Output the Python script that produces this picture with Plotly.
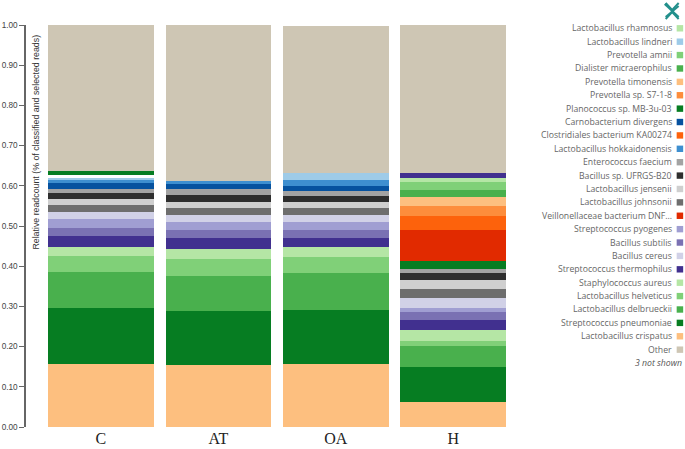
import plotly.graph_objects as go

W, H = 685, 449
L, R, T, B = 26.0, 512.25, 25.0, 426.7

samples = ["C", "AT", "OA", "H"]

crispatus = [.156, .153, .156, .062]
pneumoniae = [.140, .136, .134, .087]
delbrueckii = [.090, .087, .094, .052]
helveticus = [.040, .043, .039, .014]
aureus = [.023, .025, .024, .027]
thermophilus = [.026, .027, .024, .024]
subtilis = [.021, .020, .018, .020]
pyogenes = [.021, .020, .022, .011]
cereus = [.017, .017, .017, .024]
johnsonii = [.018, .018, .017, .023]
jensenii = [.014, .014, .015, .021]
ufrgs = [.015, .017, .014, .018]
faecium = [.012, .015, .014, .009]
planococcus_low = [0, 0, 0, .021]
veillonellaceae = [0, 0, 0, .076]
clostridiales = [0, 0, 0, .037]
s7 = [0, 0, 0, .024]
timonensis = [0, 0, 0, .021]
dialister = [0, 0, 0, .019]
amnii = [0, 0, 0, .019]
carnobacterium = [.014, .013, .012, 0]
hokkaidonensis = [.008, .008, .014, 0]
lindneri = [.004, 0, .018, 0]
rhamnosus = [0, 0, 0, .011]
not_shown_a = [0, 0, 0, .012]
not_shown_gap = [.007, 0, 0, 0]
planococcus_high = [.011, 0, 0, 0]
other = [.3635, .386, .366, .368]

stack = [
    ("Lactobacillus crispatus", crispatus, "#fdbf7f"),
    ("Streptococcus pneumoniae", pneumoniae, "#067d22"),
    ("Lactobacillus delbrueckii", delbrueckii, "#49b04d"),
    ("Lactobacillus helveticus", helveticus, "#80d078"),
    ("Staphylococcus aureus", aureus, "#b5e6a5"),
    ("Streptococcus thermophilus", thermophilus, "#41308f"),
    ("Bacillus subtilis", subtilis, "#7a71b3"),
    ("Streptococcus pyogenes", pyogenes, "#a09ed2"),
    ("Bacillus cereus", cereus, "#d1d1e7"),
    ("Lactobacillus johnsonii", johnsonii, "#6e6e6e"),
    ("Lactobacillus jensenii", jensenii, "#cfcfcf"),
    ("Bacillus sp. UFRGS-B20", ufrgs, "#2e2e2e"),
    ("Enterococcus faecium", faecium, "#a3a3a3"),
    ("Planococcus sp. MB-3u-03", planococcus_low, "#067d22"),
    ("Veillonellaceae bacterium DNF…", veillonellaceae, "#e12a00"),
    ("Clostridiales bacterium KA00274", clostridiales, "#fd620c"),
    ("Prevotella sp. S7-1-8", s7, "#fd8d3c"),
    ("Prevotella timonensis", timonensis, "#fdbf7f"),
    ("Dialister micraerophilus", dialister, "#49b04d"),
    ("Prevotella amnii", amnii, "#80d078"),
    ("Carnobacterium divergens", carnobacterium, "#06529f"),
    ("Lactobacillus hokkaidonensis", hokkaidonensis, "#3e8fd0"),
    ("Lactobacillus lindneri", lindneri, "#9ecbe8"),
    ("Lactobacillus rhamnosus", rhamnosus, "#b5e6a5"),
    ("not shown 1", not_shown_a, "#41308f"),
    ("not shown 2", not_shown_gap, "#ffffff"),
    ("Planococcus sp. MB-3u-03", planococcus_high, "#067d22"),
    ("Other", other, "#cec6b4"),
]

legend_labels = ["Lactobacillus rhamnosus", "Lactobacillus lindneri", "Prevotella amnii",
                 "Dialister micraerophilus", "Prevotella timonensis", "Prevotella sp. S7-1-8",
                 "Planococcus sp. MB-3u-03", "Carnobacterium divergens",
                 "Clostridiales bacterium KA00274", "Lactobacillus hokkaidonensis",
                 "Enterococcus faecium", "Bacillus sp. UFRGS-B20", "Lactobacillus jensenii",
                 "Lactobacillus johnsonii", "Veillonellaceae bacterium DNF…",
                 "Streptococcus pyogenes", "Bacillus subtilis", "Bacillus cereus",
                 "Streptococcus thermophilus", "Staphylococcus aureus",
                 "Lactobacillus helveticus", "Lactobacillus delbrueckii",
                 "Streptococcus pneumoniae", "Lactobacillus crispatus", "Other"]
legend_colors = dict((n, c) for n, _, c in stack)


def px(x):
    return (x - L) / (R - L)


def py(y):
    return (B - y) / (B - T)


fig = go.Figure()
for name, vals, color in stack:
    fig.add_bar(x=samples, y=vals, name=name, marker=dict(color=color, line_width=0), width=0.9,
                hoverinfo="name+y")

annotations, shapes = [], []
for i, name in enumerate(legend_labels):
    yy = 28.3 + i * 13.38
    annotations.append(dict(xref="paper", yref="paper", x=px(674), y=py(yy), text=name,
                            showarrow=False, xanchor="right", yanchor="middle",
                            font=dict(family="Open Sans", size=8.7, color="#666666")))
    shapes.append(dict(type="rect", xref="paper", yref="paper", x0=px(677), x1=px(683.5),
                       y0=py(yy - 3.2), y1=py(yy + 3.2), fillcolor=legend_colors[name], line_width=0))
annotations.append(dict(xref="paper", yref="paper", x=px(684), y=py(362.7), text="<i>3 not shown</i>",
                        showarrow=False, xanchor="right", yanchor="middle",
                        font=dict(family="Open Sans", size=8.7, color="#555555")))
annotations.append(dict(xref="paper", yref="paper", x=px(36), y=py(141.5), textangle=-90,
                        xanchor="center", yanchor="middle",
                        text="Relative readcount (% of classified and selected reads)", showarrow=False,
                        font=dict(family="Liberation Sans", size=8.8, color="#333333")))


def path(points):
    return "M " + " L ".join(f"{px(a)},{py(b)}" for a, b in points)


for pts in ([(666, 3), (672.5, 10), (679, 3)], [(666, 19), (672.5, 12), (679, 19)],
            [(665, 4), (679, 17)], [(679, 6), (666, 17)]):
    shapes.append(dict(type="path", xref="paper", yref="paper", path=path(pts),
                       line=dict(color="#23908c", width=2)))

fig.update_layout(
    width=W, height=H, barmode="stack", showlegend=False, bargap=0.1,
    margin=dict(l=L, r=W - R, t=T, b=H - B, pad=0, autoexpand=False),
    paper_bgcolor="white", plot_bgcolor="white",
    annotations=annotations, shapes=shapes,
    xaxis=dict(type="category", range=[-0.638, 3.5], showgrid=False, zeroline=False, showline=False,
               ticks="", tickfont=dict(family="Liberation Serif", size=16, color="#222222")),
    yaxis=dict(range=[0, 1], tick0=0, dtick=0.1, tickformat=".2f", showgrid=False, zeroline=False,
               showline=True, linecolor="#666666", linewidth=1.5, ticks="outside", ticklen=5,
               tickwidth=1.2, tickcolor="#666666",
               tickfont=dict(family="Liberation Sans", size=8.2, color="#444444")),
)

fig.write_html("out.html", config={"displayModeBar": False},
               post_script="document.body.style.margin='0';")
